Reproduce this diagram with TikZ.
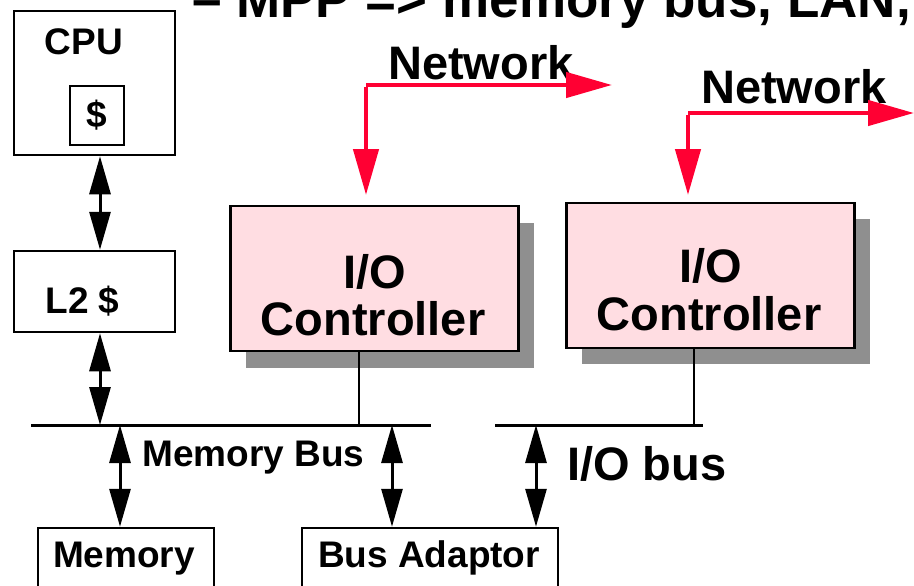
\documentclass[tikz,border=0pt]{standalone}
\usepackage{fontspec}
\setmainfont{Liberation Sans}
\usetikzlibrary{arrows.meta}
\definecolor{netred}{HTML}{FF0033}
\definecolor{ctlpink}{HTML}{FFDDE2}
\definecolor{shadowgray}{HTML}{8F8F8F}
\tikzset{
  box/.style={draw=black, line width=2.5pt, inner sep=0pt},
  ctlbox/.style={box, fill=ctlpink, minimum width=288pt, minimum height=145pt},
  shadowbox/.style={fill=shadowgray, draw=none, inner sep=0pt, minimum width=288pt, minimum height=145pt},
  lbl/.style={font=\fontsize{37}{40}\selectfont\bfseries, inner sep=0pt, anchor=base},
  biglbl/.style={font=\fontsize{47}{48}\selectfont\bfseries, inner sep=0pt, anchor=base},
  bus/.style={line width=3pt},
  tap/.style={line width=2pt},
  bidir/.style={line width=3pt, {Triangle[width=21pt,length=38pt]}-{Triangle[width=21pt,length=38pt]}, shorten <=0pt, shorten >=0pt},
  netarrow/.style={draw=netred, line width=4.5pt, miter limit=10, -{Triangle[width=25pt,length=46pt]}},
}
\begin{document}
\begin{tikzpicture}[x=1pt, y=-1pt]
\clip (0,0) rectangle (914,586);
\useasboundingbox (0,0) rectangle (914,586);

% heading line
\node[font=\fontsize{53}{56}\selectfont\bfseries, inner sep=0pt, anchor=base west] (title) at (192,18) {– MPP => memory bus, LAN, WAN};

% processor and caches
\node[box, minimum width=161pt, minimum height=144pt] (cpu) at (94.5,83) {};
\node[lbl] (cputxt) at (84,55) {CPU};
\node[box, minimum width=54pt, minimum height=59pt, font=\fontsize{37}{40}\selectfont\bfseries] (l1) at (97,115.5) {\$};
\node[box, minimum width=161pt, minimum height=81pt] (l2) at (94.5,291.5) {};
\node[lbl] (l2txt) at (82.5,313) {L2 \$};

% memory bus and I/O bus
\coordinate (mbL) at (31,425);
\coordinate (mbR) at (431,425);
\coordinate (ibL) at (495,425);
\coordinate (ibR) at (703,425);
\draw[bus] (mbL) -- (mbR);
\draw[bus] (ibL) -- (ibR);
\node[lbl, anchor=base west] (mbtxt) at (142,466) {Memory Bus};
\node[biglbl, anchor=base west] (ibtxt) at (567,480) {I/O bus};

% memory and bus adaptor
\node[box, minimum width=176pt, minimum height=80pt] (mem) at (126,568) {};
\node[lbl] (memtxt) at (124,567) {Memory};
\node[box, minimum width=256pt, minimum height=80pt] (adapt) at (430,568) {};
\node[lbl] (adapttxt) at (429,567) {Bus Adaptor};

% I/O controllers with drop shadows
\node[shadowbox] (sh1) at (389.5,295) {};
\node[ctlbox] (ctl1) at (374.5,278.5) {};
\node[biglbl] at (374.5,288) {I/O};
\node[biglbl] at (373,335) {Controller};
\node[shadowbox] (sh2) at (725.5,291) {};
\node[ctlbox] (ctl2) at (710.5,275.5) {};
\node[biglbl] at (710.5,282) {I/O};
\node[biglbl] at (709,330) {Controller};

% taps from controllers to buses
\draw[tap] (ctl1.south -| 359,0) -- (mbL -| 359,0);
\draw[tap] (ctl2.south -| 694,0) -- (ibL -| 694,0);

% bidirectional links
\draw[bidir] (cpu.south -| 100,0) -- (l2.north -| 100,0);
\draw[bidir] (l2.south -| 100,0) -- (mbL -| 100,0);
\draw[bidir] (mbL -| 120,0) -- (mem.north -| 120,0);
\draw[bidir] (mbL -| 392,0) -- (adapt.north -| 392,0);
\draw[bidir] (ibL -| 536,0) -- (adapt.north -| 536,0);

% network links
\coordinate (n1corner) at (366,85);
\coordinate (n1end) at (612,85);
\coordinate (n1tip) at (366,195);
\coordinate (n2corner) at (688,113);
\coordinate (n2end) at (914,113);
\coordinate (n2tip) at (688,195);
\node[biglbl, anchor=base west] (net1) at (388,80) {Network};
\node[biglbl, anchor=base west] (net2) at (701,103) {Network};
\draw[netarrow] (n1corner) -- (n1end);
\draw[netarrow] ([yshift=-2.25pt]n1corner) -- (n1tip);
\draw[netarrow] (n2corner) -- (n2end);
\draw[netarrow] ([yshift=-2.25pt]n2corner) -- (n2tip);
\end{tikzpicture}
\end{document}
